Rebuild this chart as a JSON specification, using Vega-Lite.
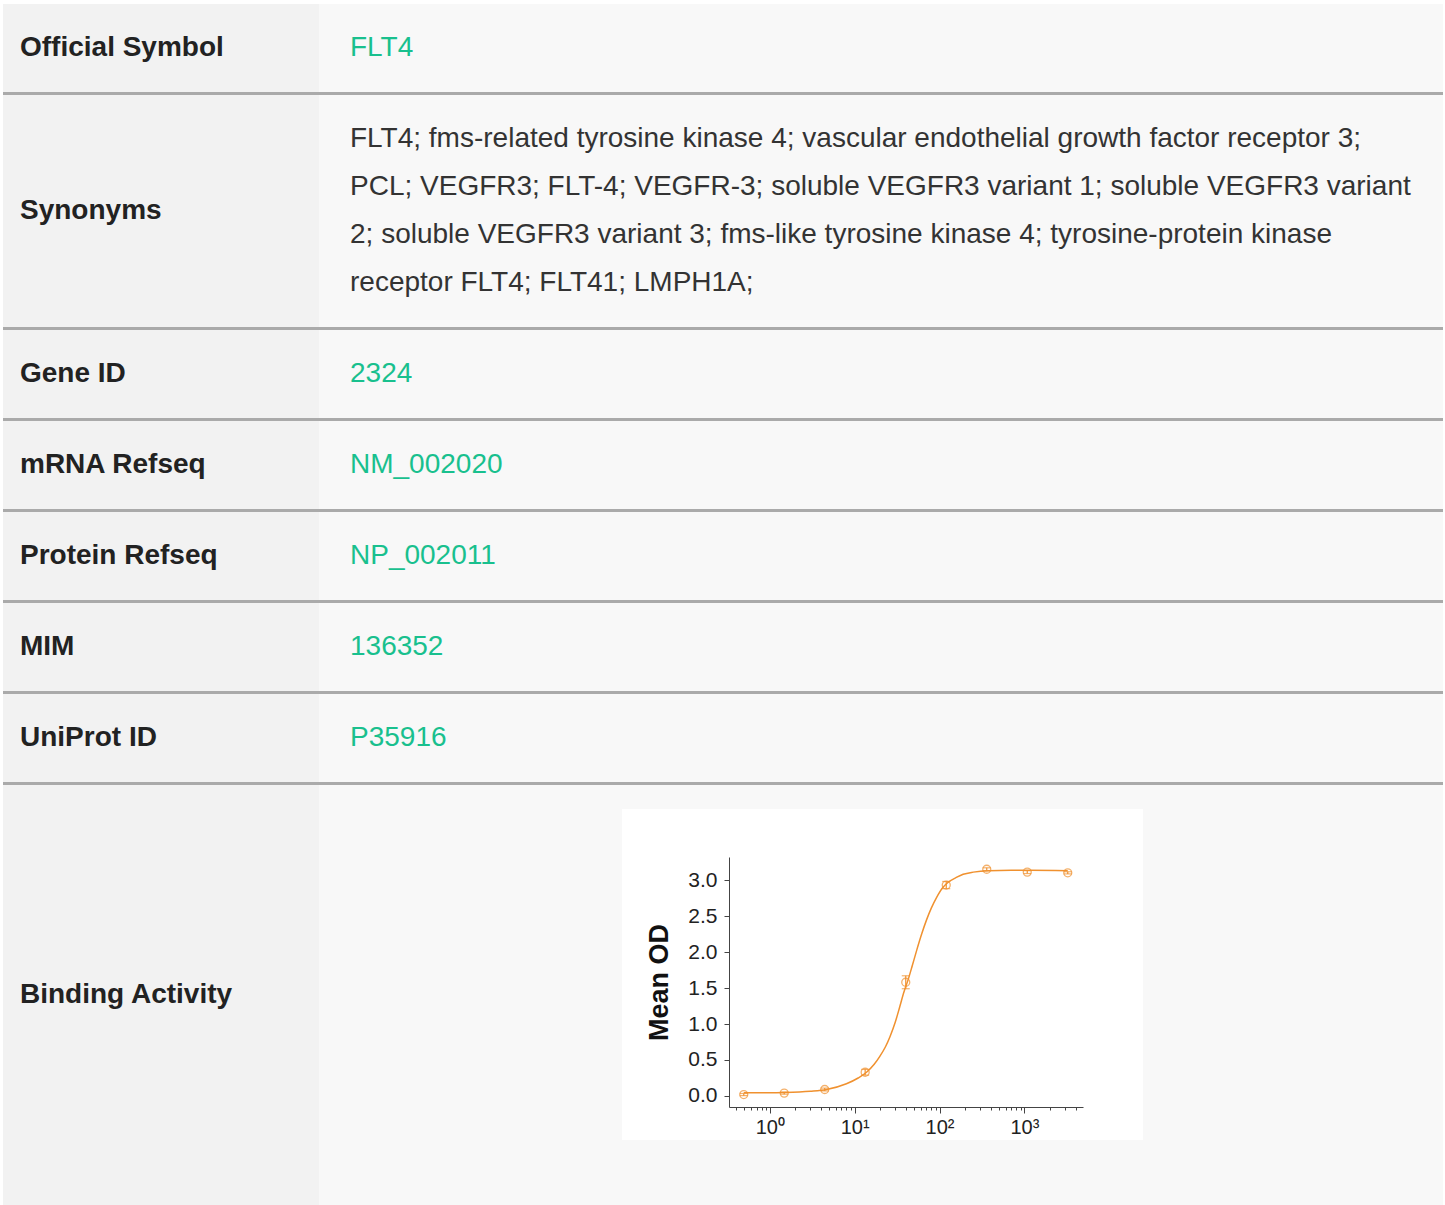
{
  "$schema": "https://vega.github.io/schema/vega-lite/v6.json",
  "background": "white",
  "padding": {"top": 4, "left": 3, "right": 2, "bottom": 0},
  "config": {
    "view": {"stroke": null},
    "concat": {"spacing": 0},
    "text": {"font": "Liberation Sans"},
    "axis": {"labelFont": "Liberation Sans", "titleFont": "Liberation Sans"}
  },
  "spacing": 0,
  "vconcat": [
    {"hconcat": [
      {"width": 316, "height": 88, "view": {"fill": "#f2f2f2"}, "data": {"values": [{"label": "Official Symbol"}]}, "mark": {"type": "text", "align": "left", "baseline": "middle", "fontSize": 28, "fontWeight": "bold", "color": "#222222"}, "encoding": {"text": {"field": "label"}, "x": {"value": 17}, "y": {"field": "label", "type": "nominal", "axis": null}}},
      {"width": 1124, "height": 88, "view": {"fill": "#f8f8f8"}, "data": {"values": [{"value": "FLT4"}]}, "mark": {"type": "text", "align": "left", "baseline": "middle", "fontSize": 28, "color": "#19c08e"}, "encoding": {"text": {"field": "value"}, "x": {"value": 31}, "y": {"field": "value", "type": "nominal", "axis": null}}}
    ], "spacing": 0},
    {"width": 1440, "height": 3, "view": {"fill": "#aaaaaa"}, "data": {"values": []}, "mark": "point", "encoding": {}},
    {"hconcat": [
      {"width": 316, "height": 232, "view": {"fill": "#f2f2f2"}, "data": {"values": [{"label": "Synonyms"}]}, "mark": {"type": "text", "align": "left", "baseline": "middle", "fontSize": 28, "fontWeight": "bold", "color": "#222222"}, "encoding": {"text": {"field": "label"}, "x": {"value": 17}, "y": {"field": "label", "type": "nominal", "axis": null}}},
      {"width": 1124, "height": 232, "view": {"fill": "#f8f8f8"}, "data": {"values": [{"value": "FLT4; fms-related tyrosine kinase 4; vascular endothelial growth factor receptor 3;\nPCL; VEGFR3; FLT-4; VEGFR-3; soluble VEGFR3 variant 1; soluble VEGFR3 variant\n2; soluble VEGFR3 variant 3; fms-like tyrosine kinase 4; tyrosine-protein kinase\nreceptor FLT4; FLT41; LMPH1A;"}]}, "mark": {"type": "text", "align": "left", "baseline": "middle", "fontSize": 28, "color": "#333333", "lineBreak": "\n", "lineHeight": 48, "dy": -72}, "encoding": {"text": {"field": "value"}, "x": {"value": 31}, "y": {"field": "value", "type": "nominal", "axis": null}}}
    ], "spacing": 0},
    {"width": 1440, "height": 3, "view": {"fill": "#aaaaaa"}, "data": {"values": []}, "mark": "point", "encoding": {}},
    {"hconcat": [
      {"width": 316, "height": 88, "view": {"fill": "#f2f2f2"}, "data": {"values": [{"label": "Gene ID"}]}, "mark": {"type": "text", "align": "left", "baseline": "middle", "fontSize": 28, "fontWeight": "bold", "color": "#222222"}, "encoding": {"text": {"field": "label"}, "x": {"value": 17}, "y": {"field": "label", "type": "nominal", "axis": null}}},
      {"width": 1124, "height": 88, "view": {"fill": "#f8f8f8"}, "data": {"values": [{"value": "2324"}]}, "mark": {"type": "text", "align": "left", "baseline": "middle", "fontSize": 28, "color": "#19c08e"}, "encoding": {"text": {"field": "value"}, "x": {"value": 31}, "y": {"field": "value", "type": "nominal", "axis": null}}}
    ], "spacing": 0},
    {"width": 1440, "height": 3, "view": {"fill": "#aaaaaa"}, "data": {"values": []}, "mark": "point", "encoding": {}},
    {"hconcat": [
      {"width": 316, "height": 88, "view": {"fill": "#f2f2f2"}, "data": {"values": [{"label": "mRNA Refseq"}]}, "mark": {"type": "text", "align": "left", "baseline": "middle", "fontSize": 28, "fontWeight": "bold", "color": "#222222"}, "encoding": {"text": {"field": "label"}, "x": {"value": 17}, "y": {"field": "label", "type": "nominal", "axis": null}}},
      {"width": 1124, "height": 88, "view": {"fill": "#f8f8f8"}, "data": {"values": [{"value": "NM_002020"}]}, "mark": {"type": "text", "align": "left", "baseline": "middle", "fontSize": 28, "color": "#19c08e"}, "encoding": {"text": {"field": "value"}, "x": {"value": 31}, "y": {"field": "value", "type": "nominal", "axis": null}}}
    ], "spacing": 0},
    {"width": 1440, "height": 3, "view": {"fill": "#aaaaaa"}, "data": {"values": []}, "mark": "point", "encoding": {}},
    {"hconcat": [
      {"width": 316, "height": 88, "view": {"fill": "#f2f2f2"}, "data": {"values": [{"label": "Protein Refseq"}]}, "mark": {"type": "text", "align": "left", "baseline": "middle", "fontSize": 28, "fontWeight": "bold", "color": "#222222"}, "encoding": {"text": {"field": "label"}, "x": {"value": 17}, "y": {"field": "label", "type": "nominal", "axis": null}}},
      {"width": 1124, "height": 88, "view": {"fill": "#f8f8f8"}, "data": {"values": [{"value": "NP_002011"}]}, "mark": {"type": "text", "align": "left", "baseline": "middle", "fontSize": 28, "color": "#19c08e"}, "encoding": {"text": {"field": "value"}, "x": {"value": 31}, "y": {"field": "value", "type": "nominal", "axis": null}}}
    ], "spacing": 0},
    {"width": 1440, "height": 3, "view": {"fill": "#aaaaaa"}, "data": {"values": []}, "mark": "point", "encoding": {}},
    {"hconcat": [
      {"width": 316, "height": 88, "view": {"fill": "#f2f2f2"}, "data": {"values": [{"label": "MIM"}]}, "mark": {"type": "text", "align": "left", "baseline": "middle", "fontSize": 28, "fontWeight": "bold", "color": "#222222"}, "encoding": {"text": {"field": "label"}, "x": {"value": 17}, "y": {"field": "label", "type": "nominal", "axis": null}}},
      {"width": 1124, "height": 88, "view": {"fill": "#f8f8f8"}, "data": {"values": [{"value": "136352"}]}, "mark": {"type": "text", "align": "left", "baseline": "middle", "fontSize": 28, "color": "#19c08e"}, "encoding": {"text": {"field": "value"}, "x": {"value": 31}, "y": {"field": "value", "type": "nominal", "axis": null}}}
    ], "spacing": 0},
    {"width": 1440, "height": 3, "view": {"fill": "#aaaaaa"}, "data": {"values": []}, "mark": "point", "encoding": {}},
    {"hconcat": [
      {"width": 316, "height": 88, "view": {"fill": "#f2f2f2"}, "data": {"values": [{"label": "UniProt ID"}]}, "mark": {"type": "text", "align": "left", "baseline": "middle", "fontSize": 28, "fontWeight": "bold", "color": "#222222"}, "encoding": {"text": {"field": "label"}, "x": {"value": 17}, "y": {"field": "label", "type": "nominal", "axis": null}}},
      {"width": 1124, "height": 88, "view": {"fill": "#f8f8f8"}, "data": {"values": [{"value": "P35916"}]}, "mark": {"type": "text", "align": "left", "baseline": "middle", "fontSize": 28, "color": "#19c08e"}, "encoding": {"text": {"field": "value"}, "x": {"value": 31}, "y": {"field": "value", "type": "nominal", "axis": null}}}
    ], "spacing": 0},
    {"width": 1440, "height": 3, "view": {"fill": "#aaaaaa"}, "data": {"values": []}, "mark": "point", "encoding": {}},
    {"hconcat": [
      {"width": 316, "height": 420, "view": {"fill": "#f2f2f2"}, "data": {"values": [{"label": "Binding Activity"}]}, "mark": {"type": "text", "align": "left", "baseline": "middle", "fontSize": 28, "fontWeight": "bold", "color": "#222222"}, "encoding": {"text": {"field": "label"}, "x": {"value": 17}, "y": {"field": "label", "type": "nominal", "axis": null}}},
      {"width": 303, "height": 420, "view": {"fill": "#f8f8f8"}, "data": {"values": []}, "mark": "point", "encoding": {}},
      {"vconcat": [
        {"width": 521, "height": 24, "view": {"fill": "#f8f8f8"}, "data": {"values": []}, "mark": "point", "encoding": {}},
        {
          "width": 521,
          "height": 331,
          "layer": [
            {
              "data": {"values": [
                {"conc": 0.494, "od": 0.045},
                {"conc": 0.8, "od": 0.046},
                {"conc": 1.5, "od": 0.05},
                {"conc": 3, "od": 0.066},
                {"conc": 4.66, "od": 0.09},
                {"conc": 8, "od": 0.17},
                {"conc": 11, "od": 0.25},
                {"conc": 13.8, "od": 0.33},
                {"conc": 17, "od": 0.44},
                {"conc": 19.8, "od": 0.55},
                {"conc": 23, "od": 0.68},
                {"conc": 26, "od": 0.82},
                {"conc": 30, "od": 1.02},
                {"conc": 34, "od": 1.24},
                {"conc": 38, "od": 1.44},
                {"conc": 42.8, "od": 1.62},
                {"conc": 48, "od": 1.82},
                {"conc": 54, "od": 2.03},
                {"conc": 62, "od": 2.26},
                {"conc": 70.5, "od": 2.45},
                {"conc": 80, "od": 2.61},
                {"conc": 92.5, "od": 2.76},
                {"conc": 110, "od": 2.9},
                {"conc": 127, "od": 2.97},
                {"conc": 160, "od": 3.04},
                {"conc": 190, "od": 3.08},
                {"conc": 250, "od": 3.11},
                {"conc": 375, "od": 3.13},
                {"conc": 700, "od": 3.135},
                {"conc": 1164, "od": 3.135},
                {"conc": 3240, "od": 3.13}
              ]},
              "mark": {"type": "line", "color": "#f0912f", "strokeWidth": 1.5, "interpolate": "monotone"},
              "encoding": {
                "x": {"field": "conc", "type": "quantitative", "scale": {"type": "log", "domain": [0.331, 4900], "nice": false, "range": [107, 461]},
                  "axis": {"orient": "bottom", "offset": -33, "values": [1, 10, 100, 1000], "labelExpr": "datum.value == 1 ? '10⁰' : datum.value == 10 ? '10¹' : datum.value == 100 ? '10²' : '10³'", "title": null, "tickSize": 6, "labelPadding": 4, "labelFontSize": 20, "labelColor": "#222222", "domainColor": "#444444", "tickColor": "#444444", "grid": false}},
                "y": {"field": "od", "type": "quantitative", "scale": {"domain": [-0.153, 3.32], "nice": false, "zero": false, "range": [298, 48]},
                  "axis": {"offset": -107, "values": [0, 0.5, 1, 1.5, 2, 2.5, 3], "format": ".1f", "title": "Mean OD", "titleFontSize": 27, "titleFontWeight": "bold", "titleColor": "#111111", "titlePadding": 14, "labelFontSize": 21, "labelColor": "#222222", "tickSize": 5, "labelPadding": 7, "domainColor": "#444444", "tickColor": "#444444", "grid": false}}
              }
            },
            {
              "data": {"values": [
                {"conc": 0.494, "od": 0.02, "lo": 0.005, "hi": 0.035},
                {"conc": 1.48, "od": 0.04, "lo": 0.025, "hi": 0.055},
                {"conc": 4.44, "od": 0.09, "lo": 0.07, "hi": 0.11},
                {"conc": 13.3, "od": 0.33, "lo": 0.29, "hi": 0.37},
                {"conc": 40, "od": 1.58, "lo": 1.49, "hi": 1.67},
                {"conc": 120, "od": 2.93, "lo": 2.88, "hi": 2.98},
                {"conc": 360, "od": 3.15, "lo": 3.13, "hi": 3.17},
                {"conc": 1080, "od": 3.11, "lo": 3.09, "hi": 3.13},
                {"conc": 3240, "od": 3.1, "lo": 3.085, "hi": 3.115}
              ]},
              "mark": {"type": "errorbar", "color": "#f0912f", "thickness": 1.2, "ticks": {"size": 8, "thickness": 1.2, "color": "#f0912f"}},
              "encoding": {
                "x": {"field": "conc", "type": "quantitative", "axis": null},
                "y": {"field": "lo", "type": "quantitative", "title": "Mean OD"},
                "y2": {"field": "hi"}
              }
            },
            {
              "data": {"values": [
                {"conc": 0.494, "od": 0.02},
                {"conc": 1.48, "od": 0.04},
                {"conc": 4.44, "od": 0.09},
                {"conc": 13.3, "od": 0.33},
                {"conc": 40, "od": 1.58},
                {"conc": 120, "od": 2.93},
                {"conc": 360, "od": 3.15},
                {"conc": 1080, "od": 3.11},
                {"conc": 3240, "od": 3.1}
              ]},
              "mark": {"type": "point", "shape": "circle", "filled": false, "color": "#f0912f", "size": 64, "strokeWidth": 1.3},
              "encoding": {
                "x": {"field": "conc", "type": "quantitative",
                  "axis": {"orient": "bottom", "offset": -33, "values": [0.4, 0.5, 0.6, 0.7, 0.8, 0.9, 2, 3, 4, 5, 6, 7, 8, 9, 20, 30, 40, 50, 60, 70, 80, 90, 200, 300, 400, 500, 600, 700, 800, 900, 2000, 3000, 4000], "labels": false, "domain": false, "tickSize": 3, "title": null, "tickColor": "#444444", "grid": false}},
                "y": {"field": "od", "type": "quantitative", "title": "Mean OD"}
              }
            }
          ],
          "resolve": {"axis": {"x": "independent"}}
        },
        {"width": 521, "height": 65, "view": {"fill": "#f8f8f8"}, "data": {"values": []}, "mark": "point", "encoding": {}}
      ], "spacing": 0},
      {"width": 300, "height": 420, "view": {"fill": "#f8f8f8"}, "data": {"values": []}, "mark": "point", "encoding": {}}
    ], "spacing": 0}
  ]
}
